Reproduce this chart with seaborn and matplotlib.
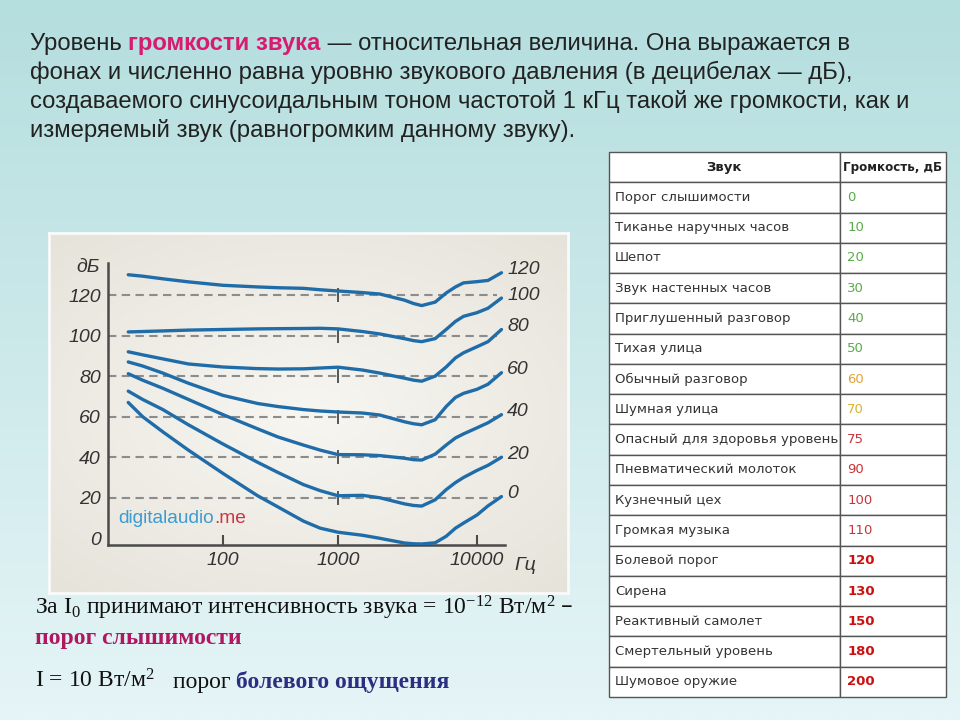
import numpy as np
import pandas as pd
import matplotlib
matplotlib.use("Agg")
import matplotlib.pyplot as plt
import seaborn as sns
from matplotlib.colors import LinearSegmentedColormap

W, H = 960, 720

# equal-loudness contours (phon), dB at each frequency
PHONS = [120, 100, 80, 60, 40, 20, 0]
FREQS = [15, 20, 30, 50, 100, 200, 300, 500, 700, 1000, 1500, 2000,
         3000, 3500, 4000, 5000, 6000, 7000, 8000, 10000, 12000, 15000]
SPL_120 = [130, 129.3, 128, 126.5, 124.8, 124, 123.6, 123.3, 122.6, 122, 121.2, 120.5,
           117.5, 115.8, 114.8, 116.5, 121, 124, 126, 126.6, 127.2, 131]
SPL_100 = [101.8, 102, 102.3, 102.7, 103, 103.3, 103.4, 103.5, 103.6, 103.3, 102, 100.8,
           98.5, 97.5, 97, 98.5, 103, 107, 109.5, 111.3, 113.5, 118.5]
SPL_80 = [92, 90.5, 88.5, 86, 84.5, 83.7, 83.5, 83.6, 84, 84.4, 83, 81.5,
          79, 78, 77.5, 80, 84.5, 89, 91.5, 94.5, 97, 103]
SPL_60 = [87, 85, 81.5, 76.5, 70.5, 66.5, 65, 63.5, 62.8, 62.3, 61.8, 60.8,
          57.5, 56.5, 56, 58.5, 65, 69.5, 71.5, 73.5, 76, 81.7]
SPL_40 = [81.2, 78, 74, 68.5, 61, 54, 50, 46, 43.5, 41.3, 41.2, 40.8,
          39.5, 38.8, 38.6, 41.5, 46, 49.5, 51.5, 54.5, 57, 61]
SPL_20 = [72.6, 68.5, 63.5, 56, 46.5, 37.5, 32.5, 26.5, 23.5, 21, 21.2, 20,
          17, 16.2, 15.9, 19, 24, 27.5, 30, 33.5, 36, 40]
SPL_0 = [67, 60, 52.5, 43.5, 32, 21, 15.5, 8.5, 5, 3, 1.5, 0,
         -2.3, -2.7, -2.8, -2.2, 1, 5, 7.5, 11.5, 16, 20.6]
CURVES = [SPL_120, SPL_100, SPL_80, SPL_60, SPL_40, SPL_20, SPL_0]

GRID_DB = [20, 40, 60, 80, 100, 120]
Y_TICKS = [0, 20, 40, 60, 80, 100, 120]
X_TICKS = [100, 1000, 10000]

SOUNDS = ["Порог слышимости", "Тиканье наручных часов", "Шепот",
          "Звук настенных часов", "Приглушенный разговор", "Тихая улица",
          "Обычный разговор", "Шумная улица", "Опасный для здоровья уровень",
          "Пневматический молоток", "Кузнечный цех", "Громкая музыка",
          "Болевой порог", "Сирена", "Реактивный самолет",
          "Смертельный уровень", "Шумовое оружие"]
SOUND_DB = [0, 10, 20, 30, 40, 50, 60, 70, 75, 90, 100, 110, 120, 130, 150, 180, 200]

BLUE = "#1f6ca8"
AXIS = "#4a4a4a"

plt.rcParams["font.family"] = ["Liberation Sans", "DejaVu Sans"]
plt.rcParams["mathtext.default"] = "regular"


# the drawing's frequency axis is not a clean log axis: decades are unequal
DEC_LOG = [0, 1, 2, 3, 4, 5]
DEC_POS = [-7, 108, 223, 338, 477, 616]


def fwd(f):
    return np.interp(np.log10(np.clip(f, 1e-3, None)), DEC_LOG, DEC_POS)


def inv(p):
    return 10 ** np.interp(p, DEC_POS, DEC_LOG)


fig = plt.figure(figsize=(9.6, 7.2), dpi=100)

# slide background
ax_grad = fig.add_axes([0, 0, 1, 1], zorder=-10)
bg = LinearSegmentedColormap.from_list("bg", ["#b5dede", "#e6f5f7"])
ax_grad.imshow(np.linspace(0, 1, 256).reshape(-1, 1), aspect="auto", cmap=bg)
ax_grad.axis("off")

# picture panel behind the chart
ax_panel = fig.add_axes([49 / W, 1 - 593 / H, 519 / W, 360 / H], zorder=-5)
yy, xx = np.mgrid[-1:1:200j, -1:1:260j]
pn = LinearSegmentedColormap.from_list("pn", ["#f7f6f1", "#e5e2d9"])
ax_panel.imshow(np.hypot(xx * 0.9, yy), aspect="auto", cmap=pn, vmin=0, vmax=1.4)
ax_panel.set_xticks([])
ax_panel.set_yticks([])
for s in ax_panel.spines.values():
    s.set_color("#fafafa")
    s.set_linewidth(2)

# chart
ax = fig.add_axes([108 / W, 1 - 545 / H, (505 - 108) / W, (545 - 263) / H], zorder=1)
ax.patch.set_alpha(0)
ax.set_xscale("function", functions=(fwd, inv))

df = pd.DataFrame({
    "freq": np.tile(FREQS, len(PHONS)),
    "spl": np.concatenate(CURVES),
    "phon": np.repeat(PHONS, len(FREQS)),
})
ax.hlines(GRID_DB, 10, 14000, colors="#8c8c8c", linestyles=(0, (4, 2.6)),
          linewidth=1.5, zorder=1)
ax.plot([1000] * len(GRID_DB), GRID_DB, ls="none", marker="|", ms=10, mew=1.4,
        color="#555555", zorder=1)
sns.lineplot(data=df, x="freq", y="spl", hue="phon",
             palette={p: BLUE for p in PHONS}, legend=False, ax=ax,
             linewidth=2.4, sort=True, zorder=3, solid_capstyle="round",
             solid_joinstyle="round")

ax.set_xlim(inv(108), inv(505))
ax.set_ylim(-3.3, 135.8)
ax.set_xticks(X_TICKS)
ax.set_xticklabels([str(v) for v in X_TICKS])
ax.set_yticks(Y_TICKS)
ax.set_yticklabels([str(v) for v in Y_TICKS])
ax.minorticks_off()
ax.set_xlabel("")
ax.set_ylabel("")
for side in ["top", "right"]:
    ax.spines[side].set_visible(False)
for side in ["left", "bottom"]:
    ax.spines[side].set_color(AXIS)
    ax.spines[side].set_linewidth(1.8)
ax.tick_params(axis="x", direction="in", length=7, width=1.5, color=AXIS,
               pad=5, labelsize=14, labelcolor="#333333")
ax.tick_params(axis="y", length=0, pad=5, labelsize=14, labelcolor="#333333")
for lbl in ax.get_xticklabels() + ax.get_yticklabels():
    lbl.set_fontstyle("italic")

for p, spl in zip(PHONS, CURVES):
    ax.annotate(str(p), xy=(FREQS[-1], spl[-1]), xytext=(4, 2),
                textcoords="offset points", ha="left", va="center",
                fontsize=14, fontstyle="italic", color="#333333")

# overlay for loose text, in pixel coordinates
ax_txt = fig.add_axes([0, 0, 1, 1], zorder=10)
ax_txt.set_xlim(0, W)
ax_txt.set_ylim(H, 0)
ax_txt.axis("off")

ax_txt.text(88, 268, "дБ", ha="center", va="center", fontsize=14,
            fontstyle="italic", color="#333333")
ax_txt.text(525, 566, "Гц", ha="center", va="center", fontsize=14,
            fontstyle="italic", color="#333333")
wm = ax_txt.text(118, 523, "digitalaudio", fontsize=13.8, color="#3d9bd0",
                 va="baseline")
ax_txt.annotate(".me", xy=(1, 0), xycoords=wm, va="bottom", fontsize=13.8,
                color="#cf3344")


def chain(x, y, pieces, **kw):
    t = ax_txt.text(x, y, pieces[0][0], va="baseline", **pieces[0][1], **kw)
    for s, style in pieces[1:]:
        t = ax_txt.annotate(s, xy=(1, 0), xycoords=t, va="bottom", **style, **kw)
    return t


TOP = dict(fontsize=17.2, color="#222222")
PINK = dict(fontsize=17.2, color="#d81b70", fontweight="bold")
chain(30, 50, [("Уровень ", TOP), ("громкости звука", PINK),
               (" — относительная величина. Она выражается в", TOP)])
chain(30, 79, [("фонах и численно равна уровню звукового давления (в децибелах — дБ),", TOP)])
chain(30, 108, [("создаваемого синусоидальным тоном частотой 1 кГц такой же громкости, как и", TOP)])
chain(30, 137, [("измеряемый звук (равногромким данному звуку).", TOP)])

SERIF = ["Liberation Serif", "DejaVu Serif"]
ax_txt.text(35, 614, r"За I$_0$ принимают интенсивность звука = 10$^{-12}$ Вт/м$^2$ –",
            family=SERIF, fontsize=17, color="#111111", va="baseline")
ax_txt.text(35, 644, "порог слышимости", family=SERIF, fontsize=17,
            fontweight="bold", color="#b0175f", va="baseline")
ax_txt.text(35, 688, r"I = 10 Вт/м$^2$", family=SERIF, fontsize=17,
            color="#111111", va="baseline")
chain(173, 688, [("порог ", dict(fontsize=17, color="#111111")),
                 ("болевого ощущения", dict(fontsize=17, color="#2b2f82",
                                            fontweight="bold"))], family=SERIF)

# table
ax_tab = fig.add_axes([609 / W, 1 - 697 / H, (946 - 609) / W, (697 - 152) / H], zorder=2)
ax_tab.axis("off")
cells = [[s, str(v)] for s, v in zip(SOUNDS, SOUND_DB)]
tbl = ax_tab.table(cellText=cells, colLabels=["Звук", "Громкость, дБ"],
                   colWidths=[0.685, 0.315], cellLoc="left", colLoc="center",
                   bbox=[0, 0, 1, 1])
tbl.auto_set_font_size(False)
tbl.set_fontsize(9.5)


def value_style(v):
    if v < 60:
        return "#5aab4a", "normal"
    if v == 60:
        return "#e0a23a", "normal"
    if v == 70:
        return "#d9b22e", "normal"
    if v < 120:
        return "#c8343a", "normal"
    return "#cc1010", "bold"


for (r, c), cell in tbl.get_celld().items():
    cell.set_facecolor("white")
    cell.set_edgecolor("#555555")
    cell.set_linewidth(1.0)
    cell.PAD = 0.025 if c == 0 else 0.07
    txt = cell.get_text()
    txt.set_fontfamily("DejaVu Sans")
    if r == 0:
        txt.set_fontweight("bold")
        txt.set_color("#222222")
        if c == 1:
            txt.set_fontsize(8.6)
    elif c == 0:
        txt.set_color("#333333")
    else:
        col, wt = value_style(SOUND_DB[r - 1])
        txt.set_color(col)
        txt.set_fontweight(wt)

fig.savefig("out.png", dpi=100)
